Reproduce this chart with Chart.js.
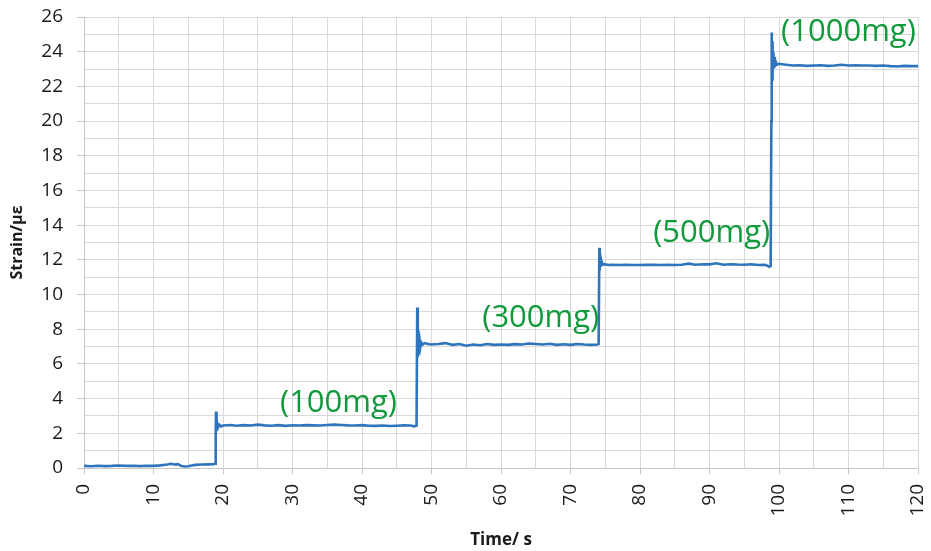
<!DOCTYPE html>
<html>
<head>
<meta charset="utf-8">
<script src="https://cdn.jsdelivr.net/npm/chart.js@4/dist/chart.umd.min.js"></script>
<style>
  html, body { margin: 0; padding: 0; background: #fff; }
  #wrap { width: 931px; height: 551px; position: relative; }
</style>
</head>
<body>
<div id="wrap"><canvas id="c" width="931" height="551"></canvas></div>
<script>
// Time (s)
const times = [
  0, 1, 2, 3, 4, 5, 6, 7, 8, 9, 10, 11, 12, 12.5, 13, 13.5, 14, 14.5, 15, 15.5, 16, 17, 18, 18.7,
  18.85, 18.95, 19.0, 19.05, 19.1, 19.15, 19.2, 19.3, 19.45, 19.7, 20, 21, 22, 23, 24, 25, 26, 27, 28, 29,
  30, 31, 32, 33, 34, 35, 36, 37, 38, 39, 40, 41, 42, 43, 44, 45, 46, 47, 47.5, 47.8,
  47.85, 47.95, 48.0, 48.05, 48.1, 48.15, 48.2, 48.3, 48.4, 48.5, 48.7, 49, 49.5, 50, 51, 52, 53, 54, 55,
  56, 57, 58, 59, 60, 61, 62, 63, 64, 65, 66, 67, 68, 69, 70, 71, 72, 73, 73.9, 74.05,
  74.15, 74.2, 74.25, 74.3, 74.4, 74.5, 74.8, 75.5, 76, 77, 78, 79, 80, 81, 82, 83, 84, 85, 86, 87,
  88, 89, 90, 91, 92, 93, 94, 95, 96, 97, 98, 98.6, 98.8,
  98.9, 98.95, 99.0, 99.05, 99.1, 99.15, 99.2, 99.3, 99.4, 99.5, 99.7, 100, 101, 102, 103, 104, 105,
  106, 107, 108, 109, 110, 111, 112, 113, 114, 115, 116, 117, 118, 119, 120
];
// Strain (µε)
const strain = [
  0.12, 0.10, 0.13, 0.11, 0.12, 0.14, 0.12, 0.13, 0.11, 0.13, 0.12, 0.15, 0.20, 0.24, 0.20, 0.22, 0.12, 0.09, 0.10, 0.14, 0.18, 0.20, 0.21, 0.22,
  0.25, 2.0, 3.25, 2.2, 2.9, 2.3, 2.6, 2.35, 2.5, 2.4, 2.45, 2.48, 2.44, 2.47, 2.45, 2.5, 2.46, 2.44, 2.47, 2.43,
  2.46, 2.45, 2.47, 2.46, 2.45, 2.48, 2.5, 2.48, 2.46, 2.45, 2.47, 2.44, 2.43, 2.45, 2.42, 2.44, 2.46, 2.45, 2.4, 2.45,
  2.5, 9.25, 6.4, 7.8, 6.6, 7.5, 6.9, 7.35, 7.0, 7.25, 7.1, 7.2, 7.15, 7.12, 7.15, 7.2, 7.1, 7.15, 7.05,
  7.12, 7.08, 7.15, 7.1, 7.12, 7.1, 7.14, 7.12, 7.18, 7.15, 7.12, 7.16, 7.1, 7.13, 7.1, 7.15, 7.12, 7.1, 7.12, 7.15,
  12.7, 11.4, 12.2, 11.6, 11.95, 11.7, 11.75, 11.7, 11.72, 11.7, 11.72, 11.7, 11.7, 11.72, 11.71, 11.7, 11.72, 11.7, 11.72, 11.78,
  11.72, 11.75, 11.74, 11.8, 11.72, 11.75, 11.73, 11.72, 11.75, 11.7, 11.72, 11.6, 11.65,
  20.0, 25.1, 22.4, 24.6, 22.8, 24.0, 23.0, 23.7, 23.1, 23.45, 23.25, 23.3, 23.25, 23.2, 23.22, 23.18, 23.2,
  23.22, 23.18, 23.2, 23.25, 23.2, 23.22, 23.2, 23.2, 23.18, 23.2, 23.17, 23.15, 23.18, 23.17, 23.17
];
// Annotation labels
const noteTexts = ['(100mg)', '(300mg)', '(500mg)', '(1000mg)'];
const noteX = [28.2, 57.3, 81.9, 100.3];
const noteY = [3.75, 8.65, 13.55, 25.1];

const points = times.map((t, i) => ({ x: t, y: strain[i] }));

const FONT = "'Open Sans', 'Liberation Sans', sans-serif";

const notesPlugin = {
  id: 'notes',
  afterDatasetsDraw(chart) {
    const ctx = chart.ctx;
    const xs = chart.scales.x, ys = chart.scales.y;
    ctx.save();
    ctx.font = "31px " + FONT;
    ctx.fillStyle = '#109a3b';
    ctx.textAlign = 'left';
    ctx.textBaseline = 'middle';
    noteTexts.forEach((t, i) => {
      ctx.fillText(t, xs.getPixelForValue(noteX[i]), ys.getPixelForValue(noteY[i]));
    });
    ctx.restore();
  }
};

new Chart(document.getElementById('c'), {
  type: 'scatter',
  data: {
    datasets: [{
      data: points,
      showLine: true,
      borderColor: '#2f75bd',
      backgroundColor: '#2f75bd',
      borderWidth: 2.6,
      pointRadius: 0,
      tension: 0
    }]
  },
  options: {
    responsive: false,
    animation: false,
    layout: { padding: { top: 17, right: 13, left: 0, bottom: 0 } },
    plugins: { legend: { display: false }, tooltip: { enabled: false } },
    scales: {
      x: {
        type: 'linear',
        min: 0, max: 120,
        afterFit(s) { s.height = 83; s.paddingLeft = 0; s.paddingRight = 0; s.paddingTop = 0; s.paddingBottom = 0; },
        border: { color: '#c8c8c8', width: 1 },
        grid: {
          color: '#d9d9d9',
          lineWidth: 1,
          tickLength: 6,
          tickColor: (c) => (c.tick && c.tick.value % 10 === 0) ? '#c8c8c8' : 'rgba(0,0,0,0)'
        },
        ticks: {
          stepSize: 5,
          autoSkip: false,
          minRotation: 90,
          maxRotation: 90,
          padding: 10,
          color: '#1a1a1a',
          font: { family: FONT, size: 19 },
          callback: (v) => (v % 10 === 0 ? String(v) : '')
        },
        title: {
          display: true,
          text: 'Time/ s',
          color: '#1a1a1a',
          font: { family: FONT, size: 17, weight: 'bold' },
          padding: { top: 0, bottom: 1 }
        }
      },
      y: {
        min: 0, max: 26,
        afterFit(s) { s.width = 84; s.paddingLeft = 0; s.paddingRight = 0; s.paddingTop = 0; s.paddingBottom = 0; },
        border: { color: '#c8c8c8', width: 1 },
        grid: {
          color: '#d9d9d9',
          lineWidth: 1,
          tickLength: 7,
          tickColor: (c) => (c.tick && c.tick.value % 2 === 0) ? '#c8c8c8' : 'rgba(0,0,0,0)'
        },
        ticks: {
          stepSize: 1,
          autoSkip: false,
          padding: 14,
          color: '#1a1a1a',
          font: { family: FONT, size: 19 },
          callback: (v) => (v % 2 === 0 ? String(v) : '')
        },
        title: {
          display: true,
          text: 'Strain/με',
          color: '#1a1a1a',
          font: { family: FONT, size: 16, weight: 'bold' },
          padding: { top: 8, bottom: 0 }
        }
      }
    }
  },
  plugins: [notesPlugin]
});
</script>
</body>
</html>
